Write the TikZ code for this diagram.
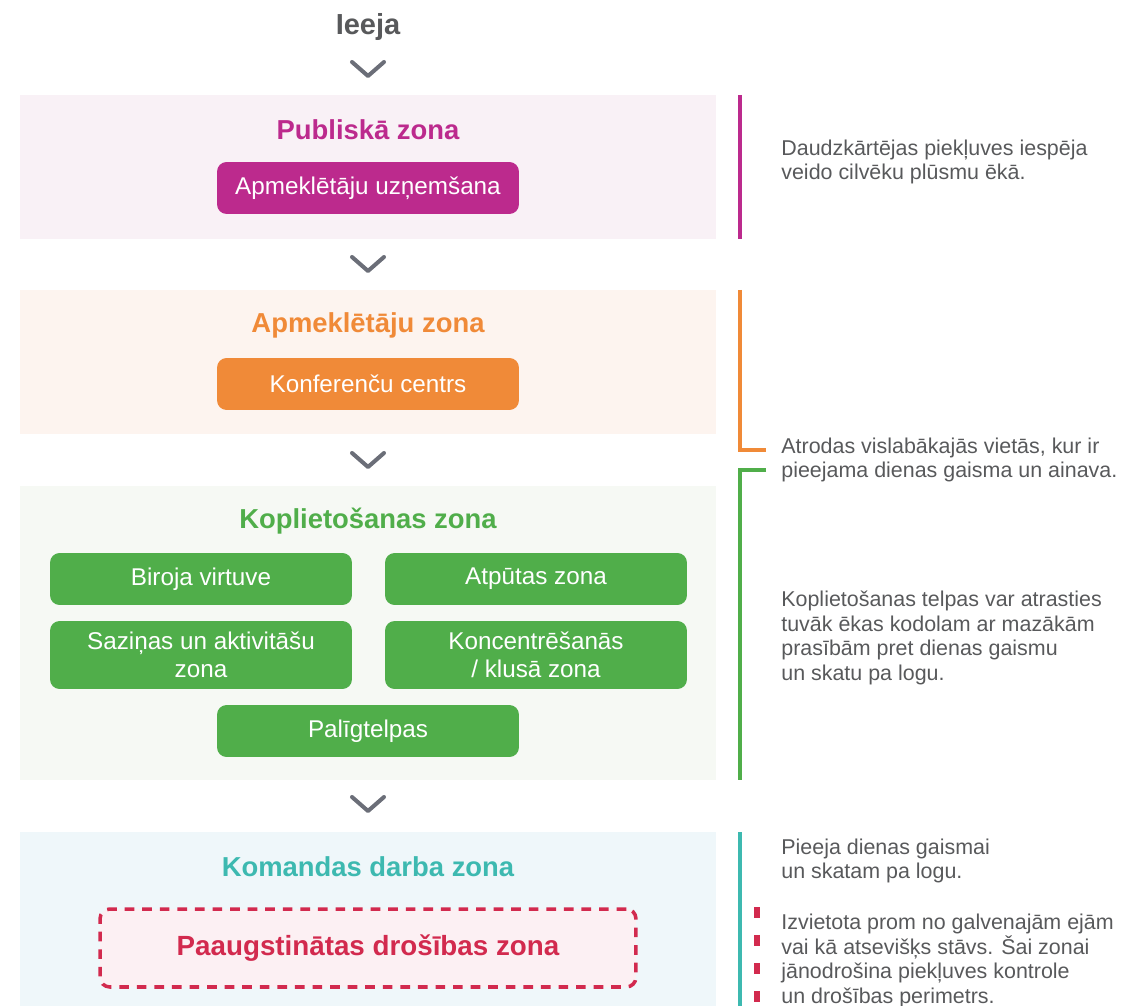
\documentclass[tikz,border=0pt]{standalone}
\usepackage{fontspec}
\setmainfont{Liberation Sans}
\usetikzlibrary{positioning}
\definecolor{txtgray}{HTML}{58595B}
\definecolor{chevgray}{HTML}{6B6E78}
\definecolor{pubcol}{HTML}{BC2A8D}
\definecolor{pubbg}{HTML}{F9F1F6}
\definecolor{orgcol}{HTML}{F08A38}
\definecolor{orgbg}{HTML}{FDF4EF}
\definecolor{grncol}{HTML}{50AE4A}
\definecolor{grnbg}{HTML}{F6F9F4}
\definecolor{tealcol}{HTML}{3DB9B0}
\definecolor{tealbg}{HTML}{EFF7FA}
\definecolor{redcol}{HTML}{D22A4E}
\definecolor{redbg}{HTML}{FCF0F3}
\tikzset{
  zonetitle/.style={font=\bfseries\fontsize{15.6}{18}\selectfont},
  room/.style={rounded corners=5.5pt, text=white, align=center, inner sep=0pt,
    minimum width=6.04cm, minimum height=1.04cm, font=\fontsize{13.8}{16.2}\selectfont},
  tallroom/.style={room, minimum height=1.36cm},
  note/.style={anchor=west, align=left, text=txtgray, inner sep=0pt,
    font=\fontsize{12.2}{14.1}\selectfont},
  zonebar/.style={line width=2.5pt},
  chev/.pic={\draw[chevgray, line width=2.3pt, line cap=round, line join=round]
    (-16,-7) -- (0,7) -- (16,-7);}
}
\begin{document}
\begin{tikzpicture}[x=0.02cm,y=-0.02cm]
  \useasboundingbox (0,0) rectangle (1122,1006);
  % zone bands
  \fill[pubbg]  (20,95)  rectangle (716,239);
  \fill[orgbg]  (20,290) rectangle (716,434);
  \fill[grnbg]  (20,486) rectangle (716,780);
  \fill[tealbg] (20,832) rectangle (716,1006);
  % entrance and flow
  \node[font=\bfseries\fontsize{16.5}{18}\selectfont, text=txtgray] (ieeja) at (368,27) {Ieeja};
  \pic at (368,69)  {chev};
  \pic at (368,264) {chev};
  \pic at (368,460) {chev};
  \pic at (368,804) {chev};
  % public zone
  \node[zonetitle, text=pubcol] (pubt) at (368,130) {Publiskā zona};
  \node[room, fill=pubcol] (pub1) at (368,188) {Apmeklētāju uzņemšana};
  % visitor zone
  \node[zonetitle, text=orgcol] (orgt) at (368,325) {Apmeklētāju zona};
  \node[room, fill=orgcol] (org1) at (368,384) {Konferenču centrs};
  % shared zone
  \node[zonetitle, text=grncol] (grnt) at (368,521) {Koplietošanas zona};
  \node[room, fill=grncol] (grn1) at (201,579) {Biroja virtuve};
  \node[room, fill=grncol] (grn2) at (536,579) {Atpūtas zona};
  \node[tallroom, fill=grncol] (grn3) at (201,655) {Saziņas un aktivitāšu\\zona};
  \node[tallroom, fill=grncol] (grn4) at (536,655) {Koncentrēšanās\\/ klusā zona};
  \node[room, fill=grncol] (grn5) at (368,731) {Palīgtelpas};
  % team zone
  \node[zonetitle, text=tealcol] (teamt) at (368,867) {Komandas darba zona};
  \node[draw=redcol, fill=redbg, line width=2pt, dash pattern=on 5.5pt off 4.5pt,
    rounded corners=5.5pt, minimum width=10.72cm, minimum height=1.56cm,
    text=redcol, font=\bfseries\fontsize{15.8}{18}\selectfont] (safe) at (368,948) {Paaugstinātas drošības zona};
  % side bars
  \draw[zonebar, pubcol] (740,95) -- (740,239);
  \draw[zonebar, orgcol] (740,290) -- (740,450) -- (766,450);
  \draw[zonebar, grncol] (766,470) -- (740,470) -- (740,780);
  \draw[zonebar, tealcol] (740,832) -- (740,1010);
  \draw[redcol, line width=3pt, dash pattern=on 6.5pt off 9.4pt] (757,907) -- (757,1010);
  % notes
  \node[note] (n1) at (781,162) {Daudzkārtējas piekļuves iespēja\\veido cilvēku plūsmu ēkā.};
  \node[note] (n2) at (781,460) {Atrodas vislabākajās vietās, kur ir\\pieejama dienas gaisma un ainava.};
  \node[note] (n3) at (781,638) {Koplietošanas telpas var atrasties\\tuvāk ēkas kodolam ar mazākām\\prasībām pret dienas gaismu\\un skatu pa logu.};
  \node[note] (n4) at (781,861) {Pieeja dienas gaismai\\un skatam pa logu.};
  \node[note] (n5) at (781,961) {Izvietota prom no galvenajām ejām\\vai kā atsevišķs stāvs. Šai zonai\\jānodrošina piekļuves kontrole\\un drošības perimetrs.};
\end{tikzpicture}
\end{document}
